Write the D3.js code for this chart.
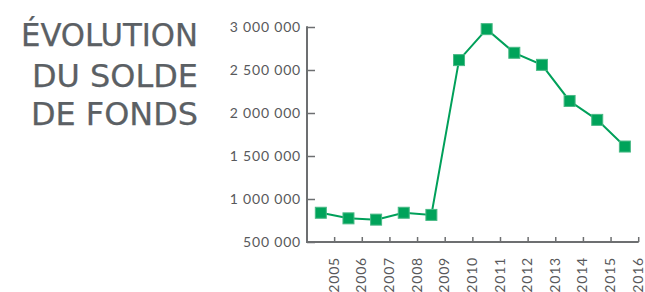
<!DOCTYPE html>
<html>

<head>
    <meta charset="utf-8">
    <style>
        body {
            margin: 0;
            background: #ffffff;
        }

        svg {
            display: block;
        }

        .title {
            font-family: 'Liberation Sans Narrow', 'DejaVu Sans Condensed', 'Open Sans', sans-serif;
            fill: #5b6064;
            stroke: #5b6064;
            stroke-width: 0.25;
        }

        .yaxis text, .xaxis text {
            font-family: Lato, 'Open Sans', sans-serif;
            fill: #58595b;
            letter-spacing: 0.8px;
        }
    </style>
</head>

<body>
    <svg width="645" height="292"></svg>
</body>

<script src="https://d3js.org/d3.v7.min.js"></script>

<script>
//------------------------1. PREPARATION------------------------//
//-----------------------------DATA-----------------------------//
let years = ["2005", "2006", "2007", "2008", "2009", "2010", "2011", "2012", "2013", "2014", "2015", "2016"]
let solde = [840000, 775000, 760000, 840000, 815000, 2615000, 2975000, 2700000, 2560000, 2140000, 1920000, 1610000]
let yTicks = [500000, 1000000, 1500000, 2000000, 2500000, 3000000]
let titleLines = ["ÉVOLUTION", "DU SOLDE", "DE FONDS"]

let data = years.map(function(y, i){
    return {year: y, value: solde[i]}
})

//-----------------------------SVG------------------------------//
let svg = d3.select("svg")

let margins = {top: 27, right: 6.3, bottom: 50, left: 307}
let width = 645
let height = 292

//----------------------------SCALES & AXES--------------------//
let x = d3.scaleBand()
    .domain(years)
    .range([margins.left, width - margins.right])
    .padding(0)

let y = d3.scaleLinear()
    .domain([500000, 3000000])
    .range([height - margins.bottom, margins.top])

// french style thousands: "3 000 000"
let fr = d3.formatLocale({decimal: ",", thousands: " ", grouping: [3], currency: ["", " €"]})

let axisColor = "#6d6f71"

//Y-axis
let yAxis = svg.append("g")
    .attr("class", "yaxis")
    .attr("transform", `translate(${margins.left},0)`)
    .call(d3.axisLeft(y)
        .tickValues(yTicks)
        .tickSize(0)
        .tickPadding(6)
        .tickFormat(fr.format(",d")))
    .attr("font-size", 14)
    .call(g => g.select(".domain").remove())

yAxis.selectAll(".tick")
    .append("line")
    .attr("x1", 0)
    .attr("x2", 8)
    .attr("stroke", axisColor)
    .attr("stroke-width", 1.5)

svg.append("line")
    .attr("x1", margins.left)
    .attr("x2", margins.left)
    .attr("y1", y(3000000) - 0.75)
    .attr("y2", y(500000) + 1)
    .attr("stroke", axisColor)
    .attr("stroke-width", 2)

//X-axis: ticks sit at the right edge of each band, pointing up
let xAxis = svg.append("g")
    .attr("class", "xaxis")
    .attr("transform", `translate(0,${y(500000)})`)

xAxis.append("line")
    .attr("x1", margins.left)
    .attr("x2", width - margins.right)
    .attr("stroke", axisColor)
    .attr("stroke-width", 2)

xAxis.selectAll(".xtick")
    .data(years)
    .join("line")
    .attr("class", "xtick")
    .attr("x1", d => x(d) + x.bandwidth())
    .attr("x2", d => x(d) + x.bandwidth())
    .attr("y1", 0)
    .attr("y2", -5)
    .attr("stroke", axisColor)
    .attr("stroke-width", 1.5)

xAxis.selectAll(".xlabel")
    .data(years)
    .join("text")
    .attr("class", "xlabel")
    .attr("transform", d => `translate(${x(d) + x.bandwidth() - 1},15) rotate(-90)`)
    .attr("text-anchor", "end")
    .attr("dy", "0.36em")
    .attr("font-size", 14)
    .text(d => d)

//-------------------------2. DRAWING---------------------------//
let line = d3.line()
    .x(d => x(d.year) + x.bandwidth() / 2)
    .y(d => y(d.value))

svg.append("path")
    .attr("d", line(data))
    .attr("fill", "none")
    .attr("stroke", "#00a05a")
    .attr("stroke-width", 2)

let size = 11
svg.append("g")
    .selectAll("rect")
    .data(data)
    .join("rect")
    .attr("x", d => x(d.year) + x.bandwidth() / 2 - size / 2)
    .attr("y", d => y(d.value) - size / 2)
    .attr("width", size)
    .attr("height", size)
    .attr("fill", "#00a35a")
    .attr("stroke", "#48b985")
    .attr("stroke-width", 1)

//----------------------------TITLE-----------------------------//
let baselines = [46, 87, 125]
let widths = [177, 166, 167]
svg.append("g")
    .selectAll("text")
    .data(titleLines)
    .join("text")
    .attr("class", "title")
    .attr("x", 198)
    .attr("y", (d, i) => baselines[i])
    .attr("text-anchor", "end")
    .attr("font-size", 32)
    .attr("textLength", (d, i) => widths[i])
    .attr("lengthAdjust", "spacingAndGlyphs")
    .text(d => d)
</script>

</html>
